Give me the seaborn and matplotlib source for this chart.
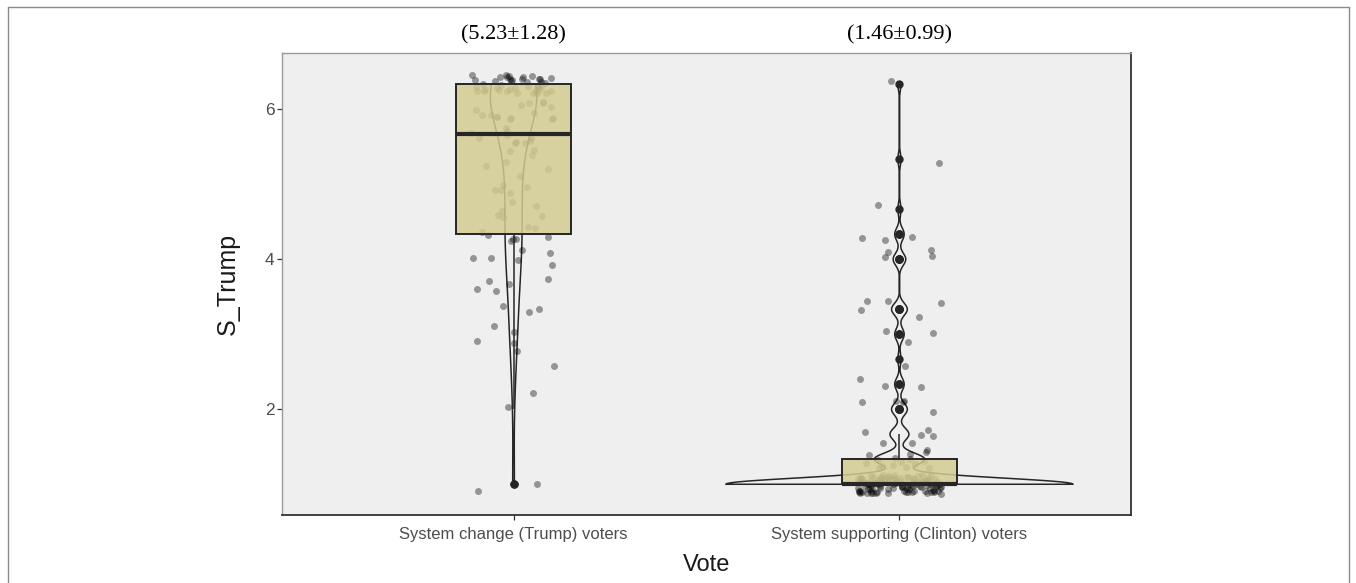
import numpy as np
import pandas as pd
import matplotlib
matplotlib.use("Agg")
import matplotlib.pyplot as plt
from matplotlib.lines import Line2D
from matplotlib.transforms import blended_transform_factory
import seaborn as sns

# Score levels (thirds of a scale point) and how many voters gave each
groups = ["System change (Trump) voters", "System supporting (Clinton) voters"]
trump_levels = [1.0, 2.0, 2.3333, 2.6667, 3.0, 3.3333, 3.6667, 4.0, 4.3333,
                4.6667, 5.0, 5.3333, 5.6667, 6.0, 6.3333]
trump_counts = [2, 1, 1, 2, 4, 3, 5, 6, 8, 6, 6, 6, 10, 15, 41]
clinton_levels = [1.0, 1.3333, 1.6667, 2.0, 2.3333, 2.6667, 3.0, 3.3333,
                  4.0, 4.3333, 4.6667, 5.3333, 6.3333]
clinton_counts = [110, 16, 6, 5, 3, 1, 3, 5, 4, 3, 1, 1, 1]
group_means = [5.23, 1.46]
group_sds = [1.28, 0.99]
y_ticks = [2, 4, 6]

scores = np.concatenate([np.repeat(trump_levels, trump_counts),
                         np.repeat(clinton_levels, clinton_counts)])
votes = [groups[0]] * sum(trump_counts) + [groups[1]] * sum(clinton_counts)
df = pd.DataFrame({"Vote": votes, "S_Trump": scores})

sns.set_style("ticks")
plt.rcParams["font.family"] = ["Liberation Sans", "DejaVu Sans"]

box_rgb = (210 / 255, 204 / 255, 144 / 255)
box_alpha = 0.85
line_col = "#262626"

fig = plt.figure(figsize=(13.56, 5.83), dpi=100)
ax = fig.add_axes([282 / 1356, 1 - 515 / 583, (1131 - 282) / 1356, (515 - 53) / 583])


def nrd0(kde):
    """Silverman's rule of thumb (R's bw.nrd0) expressed as a factor of the sd."""
    x = np.asarray(kde.dataset).ravel()
    sd = x.std(ddof=1)
    q75, q25 = np.percentile(x, [75, 25])
    lo = min(sd, (q75 - q25) / 1.34)
    if lo <= 0:
        lo = sd
    return 0.9 * lo * len(x) ** (-0.2) / sd


# Violins, trimmed to the data range, equal area
n_coll = len(ax.collections)
sns.violinplot(data=df, x="Vote", y="S_Trump", order=groups, density_norm="area",
               cut=0, bw_method=nrd0, gridsize=512, inner=None, fill=False,
               color=line_col, linecolor=line_col, linewidth=1.1, width=0.9, ax=ax)
for c in ax.collections[n_coll:]:
    c.set_zorder(1)

# Jittered raw scores
np.random.seed(7)
n_coll = len(ax.collections)
sns.stripplot(data=df, x="Vote", y="S_Trump", order=groups, jitter=0.11, size=5,
              color="black", alpha=0.38, linewidth=0, ax=ax)
rng = np.random.default_rng(11)
for c in ax.collections[n_coll:]:
    off = np.asarray(c.get_offsets()).copy()
    off[:, 1] += rng.uniform(-0.13, 0.13, len(off))
    c.set_offsets(off)
    c.set_zorder(2)

# Boxplots on top, semi-transparent fill
n_patch = len(ax.patches)
n_line = len(ax.lines)
sns.boxplot(data=df, x="Vote", y="S_Trump", order=groups, width=0.3, color=box_rgb,
            saturation=1, linecolor=line_col, linewidth=1.4, whis=1.5, fliersize=5,
            ax=ax,
            medianprops={"color": line_col, "linewidth": 3},
            whiskerprops={"color": line_col, "linewidth": 1.1},
            capprops={"visible": False},
            flierprops={"marker": "o", "markersize": 5, "markerfacecolor": line_col,
                        "markeredgecolor": line_col})
for p in ax.patches[n_patch:]:
    p.set_facecolor((*box_rgb, box_alpha))
    p.set_edgecolor(line_col)
    p.set_zorder(3)
for ln in ax.lines[n_line:]:
    ln.set_zorder(4)

# Axes styling
ax.set_facecolor("#EFEFEF")
ax.set_xlim(-0.6, 1.6)
ax.set_ylim(0.59, 6.75)
ax.set_yticks(y_ticks)
ax.set_xticks(range(len(groups)))
ax.set_xticklabels(groups)
ax.tick_params(axis="both", colors="#333333", length=3.5, width=0.9,
               labelcolor="#4D4D4D", labelsize=12)
ax.tick_params(axis="y", labelsize=12.5, pad=2)
ax.tick_params(axis="x", pad=5)
for side in ["left", "top"]:
    ax.spines[side].set_visible(True)
    ax.spines[side].set_color("#999999")
    ax.spines[side].set_linewidth(1.0)
for side in ["bottom", "right"]:
    ax.spines[side].set_visible(True)
    ax.spines[side].set_color("#333333")
    ax.spines[side].set_linewidth(1.3)

ax.set_xlabel("Vote", fontsize=17, color="#1A1A1A")
ax.set_ylabel("S_Trump", fontsize=18, color="#1A1A1A")
ax.xaxis.set_label_coords(0.5, -0.085)
ax.yaxis.set_label_coords(-0.05, 0.5)

# Mean ± SD above each group
trans = blended_transform_factory(ax.transData, fig.transFigure)
for i, (m, s) in enumerate(zip(group_means, group_sds)):
    ax.text(i, 1 - 35 / 583, f"({m:.2f}\u00b1{s:.2f})", transform=trans,
            ha="center", va="center", fontsize=16, color="black",
            family=["Liberation Serif", "DejaVu Serif"])

# Outer frame
frame_kw = dict(transform=fig.transFigure, color="#8A8A8A", linewidth=1.0)
x0, x1, ytop = 8 / 1356, 1349 / 1356, 1 - 7 / 583
fig.add_artist(Line2D([x0, x1], [ytop, ytop], **frame_kw))
fig.add_artist(Line2D([x0, x0], [0, ytop], **frame_kw))
fig.add_artist(Line2D([x1, x1], [0, ytop], **frame_kw))

fig.savefig("out.png", dpi=100)
